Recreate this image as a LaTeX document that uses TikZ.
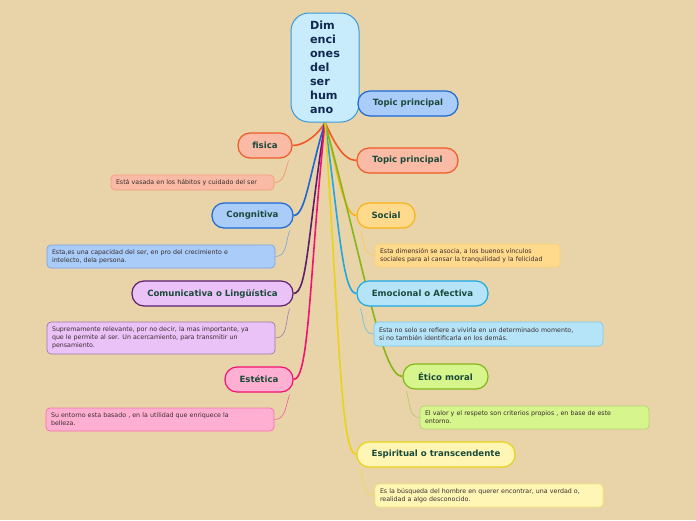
\documentclass[tikz,border=0pt]{standalone}
\usepackage{fontspec}
\setmainfont{DejaVu Sans}
\usepackage{tikz}
\usetikzlibrary{backgrounds}

\definecolor{paper}{RGB}{232,212,168}
\definecolor{roottext}{RGB}{18,40,80}
\definecolor{topictext}{RGB}{26,74,58}
\definecolor{notetext}{RGB}{58,44,44}
\definecolor{rootfill}{RGB}{200,236,252}
\definecolor{rootdraw}{RGB}{58,154,217}
\definecolor{bluefill}{RGB}{169,204,249}
\definecolor{bluedraw}{RGB}{30,102,214}
\definecolor{salmonfill}{RGB}{249,187,166}
\definecolor{salmondraw}{RGB}{240,90,40}
\definecolor{purplefill}{RGB}{234,194,248}
\definecolor{purpledraw}{RGB}{91,31,110}
\definecolor{pinkfill}{RGB}{255,176,210}
\definecolor{pinkdraw}{RGB}{242,18,111}
\definecolor{orangefill}{RGB}{255,217,140}
\definecolor{orangedraw}{RGB}{248,180,25}
\definecolor{cyanfill}{RGB}{181,228,248}
\definecolor{cyandraw}{RGB}{30,168,227}
\definecolor{greenfill}{RGB}{214,245,140}
\definecolor{greendraw}{RGB}{134,181,26}
\definecolor{yellowfill}{RGB}{255,246,182}
\definecolor{yellowdraw}{RGB}{232,211,25}

\begin{document}
\begin{tikzpicture}[
  x=1pt, y=1pt,
  topic/.style={rounded corners=12pt, line width=1.2pt, minimum height=25pt,
    inner sep=0pt, font=\fontsize{8.6}{10}\selectfont\bfseries, text=topictext},
  note/.style={rounded corners=4pt, line width=0.7pt, inner xsep=5pt, inner ysep=1pt,
    align=left, font=\fontsize{6.3}{7.8}\selectfont, text=notetext},
  branch/.style={line width=1.6pt},
  twig/.style={line width=0.6pt}
]
\begin{scope}[on background layer]
\fill[paper] (0,0) rectangle (696,-520);
\end{scope}
\useasboundingbox (0,0) rectangle (696,-520);

% centre
\node (root) [draw=rootdraw, fill=rootfill, line width=1pt, rounded corners=18pt,
  minimum width=68pt, minimum height=109pt, align=left, text=roottext,
  font=\fontsize{11.2}{13.9}\selectfont\bfseries] at (325,-67.5)
  {Dim\\enci\\ones\\del\\ser\\hum\\ano};

% topics
\node (tpa) [topic, draw=bluedraw, fill=bluefill, minimum width=100pt] at (408,-103.5) {Topic principal};
\node (tpb) [topic, draw=salmondraw, fill=salmonfill, minimum width=101pt] at (407.5,-160.5) {Topic principal};
\node (fisica) [topic, draw=salmondraw, fill=salmonfill, minimum width=54pt] at (265,-145.5) {fisica};
\node (congn) [topic, draw=bluedraw, fill=bluefill, minimum width=81pt] at (252.5,-215.5) {Congnitiva};
\node (comun) [topic, draw=purpledraw, fill=purplefill, minimum width=161pt] at (212.5,-293.5) {Comunicativa o Lingüística};
\node (estet) [topic, draw=pinkdraw, fill=pinkfill, minimum width=68pt] at (259,-379.5) {Estética};
\node (social) [topic, draw=orangedraw, fill=orangefill, minimum width=58pt] at (386,-215.5) {Social};
\node (emoc) [topic, draw=cyandraw, fill=cyanfill, minimum width=131pt] at (422.5,-293.5) {Emocional o Afectiva};
\node (etico) [topic, draw=greendraw, fill=greenfill, minimum width=85pt] at (445.5,-376.5) {Ético moral};
\node (espir) [topic, draw=yellowdraw, fill=yellowfill, minimum width=158pt] at (436,-454.5) {Espiritual o transcendente};

% notes
\node (fisicanote) [note, draw=salmondraw!60, fill=salmonfill, text width=153pt, minimum height=15pt] at (192.5,-182.5)
  {Está vasada en los hábitos y cuidado del ser};
\node (congnnote) [note, draw=bluedraw!60, fill=bluefill, text width=218pt, minimum height=23pt] at (161,-256.5)
  {Esta,es una capacidad del ser, en pro del crecimiento e\\intelecto, dela persona.};
\node (comunnote) [note, draw=purpledraw!60, fill=purplefill, text width=218pt, minimum height=32pt] at (161,-338)
  {Supremamente relevante, por no decir, la mas importante, ya\\que le permite al ser. Un acercamiento, para transmitir un\\pensamiento.};
\node (estetnote) [note, draw=pinkdraw!60, fill=pinkfill, text width=218pt, minimum height=23pt] at (160,-419.5)
  {Su entorno esta basado , en la utilidad que enriquece la\\belleza.};
\node (socialnote) [note, draw=orangedraw!60, fill=orangefill, text width=175pt, minimum height=23pt] at (467.5,-255.5)
  {Esta dimensión se asocia, a los buenos vínculos\\sociales para al cansar la tranquilidad y la felicidad};
\node (emocnote) [note, draw=cyandraw!60, fill=cyanfill, text width=219pt, minimum height=24pt] at (488.5,-334)
  {Esta no solo se refiere a vivirla en un determinado momento,\\si no también identificarla en los demás.};
\node (eticonote) [note, draw=greendraw!60, fill=greenfill, text width=219pt, minimum height=23pt] at (534.5,-417.5)
  {El valor y el respeto son criterios propios , en base de este\\entorno.};
\node (espirnote) [note, draw=yellowdraw!60, fill=yellowfill, text width=218pt, minimum height=23pt] at (489,-495.5)
  {Es la búsqueda del hombre en querer encontrar, una verdad o,\\realidad a algo desconocido.};

\begin{scope}[on background layer]
% branches
\draw[branch, bluedraw] (root.south) to[out=60, in=180] (tpa.west);
\draw[branch, salmondraw] (root.south) to[out=-65, in=180, out distance=18pt, in distance=14pt] (tpb.west);
\draw[branch, salmondraw] (root.south) to[out=-120, in=0, out distance=14pt, in distance=12pt] (fisica.east);
\draw[branch, bluedraw] (root.south) to[out=-107, in=0, out distance=55pt, in distance=12pt] (congn.east);
\draw[branch, purpledraw] (root.south) to[out=-99, in=0, out distance=110pt, in distance=14pt] (comun.east);
\draw[branch, pinkdraw] (root.south) to[out=-96, in=0, out distance=150pt, in distance=16pt] (estet.east);
\draw[branch, orangedraw] (root.south) to[out=-76, in=180, out distance=55pt, in distance=12pt] (social.west);
\draw[branch, cyandraw] (root.south) to[out=-82, in=180, out distance=100pt, in distance=14pt] (emoc.west);
\draw[branch, greendraw] (root.south) to[out=-75, in=180, out distance=160pt, in distance=20pt] (etico.west);
\draw[branch, yellowdraw] (root.south) to[out=-86, in=180, out distance=210pt, in distance=16pt] (espir.west);
% twigs
\draw[twig, salmondraw!70] ([xshift=-4pt,yshift=-2pt]fisica.south east) to[out=-110, in=0] (fisicanote.east);
\draw[twig, bluedraw!60] ([xshift=-4pt,yshift=-2pt]congn.south east) to[out=-110, in=0] (congnnote.east);
\draw[twig, purpledraw!60] ([xshift=-4pt,yshift=-2pt]comun.south east) to[out=-110, in=0] (comunnote.east);
\draw[twig, pinkdraw!70] ([xshift=-4pt,yshift=-2pt]estet.south east) to[out=-110, in=0] (estetnote.east);
\draw[twig, orangedraw!70] ([xshift=4pt,yshift=-2pt]social.south west) to[out=-70, in=180] (socialnote.west);
\draw[twig, cyandraw!70] ([xshift=4pt,yshift=-2pt]emoc.south west) to[out=-70, in=180] (emocnote.west);
\draw[twig, greendraw!70] ([xshift=4pt,yshift=-2pt]etico.south west) to[out=-70, in=180] (eticonote.west);
\draw[twig, yellowdraw!80] ([xshift=4pt,yshift=-2pt]espir.south west) to[out=-70, in=180] (espirnote.west);
\end{scope}
\end{tikzpicture}
\end{document}
